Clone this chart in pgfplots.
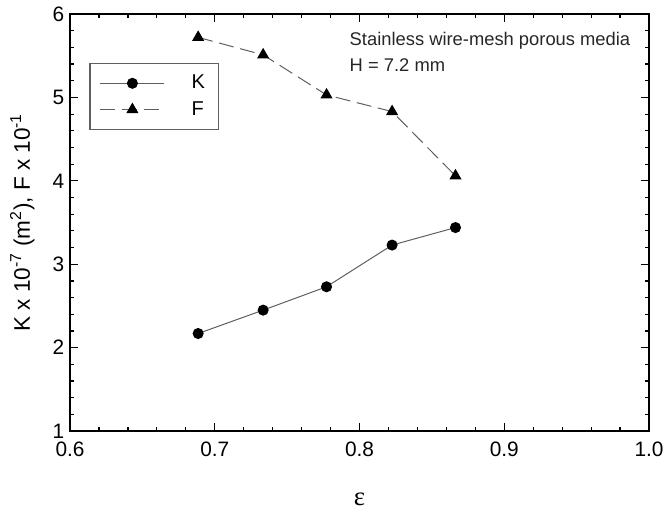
\documentclass[border=0pt]{standalone}
\usepackage{pgfplots}
\pgfplotsset{compat=1.18}
\usepackage{fontspec}
\setmainfont{Liberation Sans}
\newfontfamily\serifgr{Liberation Serif}
\usetikzlibrary{calc}
\definecolor{lgray}{RGB}{95,95,95}
\begin{document}
\begin{tikzpicture}
\begin{axis}[
  name=ax,
  scale only axis,
  width=347pt, height=250pt,
  xmin=0.6, xmax=1.0, ymin=1, ymax=6,
  xtick={0.6,0.7,0.8,0.9,1.0},
  xticklabels={0.6,0.7,0.8,0.9,1.0},
  ytick={1,2,3,4,5,6},
  minor x tick num=4, minor y tick num=4,
  tick align=inside,
  major tick length=5pt, minor tick length=2.6pt,
  axis line style={line width=0.9pt, black},
  every tick/.style={black, line width=0.7pt},
  /pgf/number format/assume math mode=true,
  tick label style={font=\fontsize{12.5}{14}\selectfont},
  xticklabel style={yshift=-3pt},
  xlabel={\serifgr\fontsize{16}{17}\selectfont ε},
  xlabel style={yshift=-15pt},
  ylabel={\fontsize{13.5}{15}\selectfont K x 10\textsuperscript{-7} (m\textsuperscript{2}), F x 10\textsuperscript{-1}},
  ylabel style={yshift=4pt},
  legend style={at={(0.033,0.883)}, anchor=north west, draw=lgray, line width=0.8pt,
    font=\fontsize{12}{14}\selectfont, inner xsep=6pt, inner ysep=5pt, row sep=2pt},
  legend cell align=left,
  legend image code/.code={
    \draw[#1, mark=none] (0cm,0cm) -- (1.35cm,0cm);
    \draw[#1, solid, only marks] plot coordinates {(0.675cm,0cm)};
  },
]
\addplot[color=lgray, line width=0.6pt, mark=*, mark size=3pt, mark options={fill=black, draw=black, solid}]
coordinates {(0.6885,2.17) (0.7334,2.45) (0.7772,2.73) (0.8225,3.23) (0.8663,3.44)};
\addlegendentry{\hspace{14pt}K}
\addplot[color=lgray, line width=0.6pt, dash pattern=on 9pt off 4pt, mark=triangle*, mark size=3.6pt, mark options={fill=black, draw=black, solid}]
coordinates {(0.6885,5.72) (0.7334,5.51) (0.7772,5.03) (0.8225,4.83) (0.8663,4.06)};
\addlegendentry{\hspace{14pt}F}
\node[anchor=north west, align=left, font=\fontsize{11}{15}\selectfont, text=black!85, inner sep=0pt]
  at (axis cs:0.793,5.78) {Stainless wire-mesh porous media\\H = 7.2 mm};
\end{axis}
\pgfresetboundingbox
\path[use as bounding box] ($(ax.south west)+(-42pt,-51pt)$) rectangle ($(ax.north east)+(8.4pt,8.4pt)$);
\end{tikzpicture}
\end{document}
